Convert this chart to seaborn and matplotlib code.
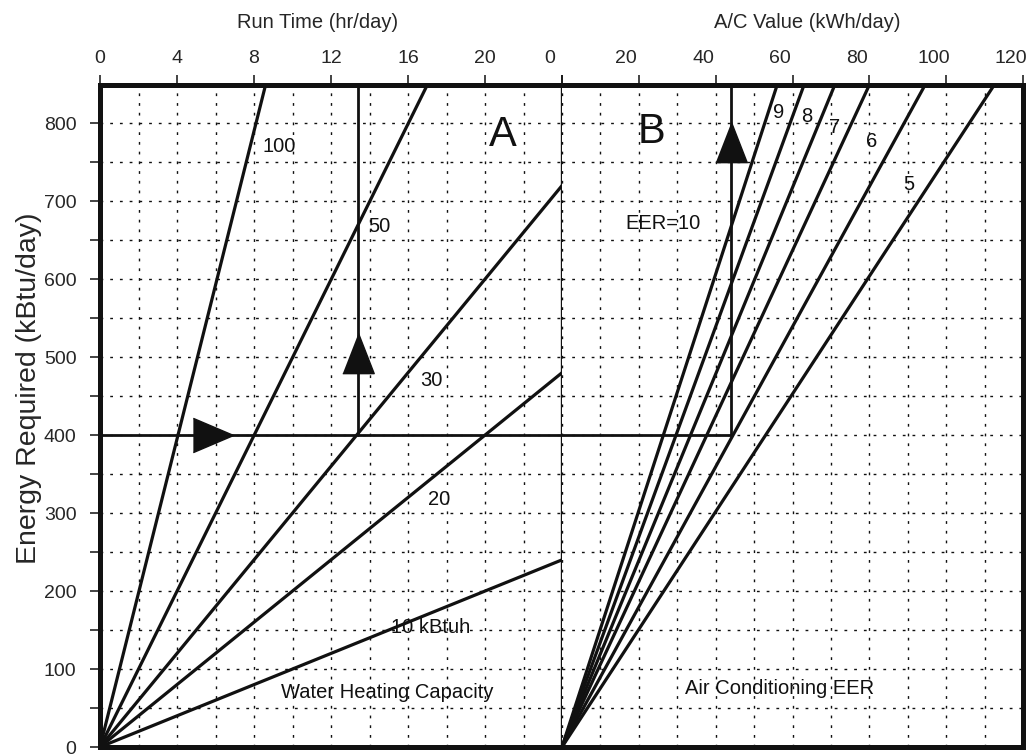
import numpy as np
import pandas as pd
import matplotlib
matplotlib.use("Agg")
import matplotlib.pyplot as plt
import matplotlib.transforms as mtransforms
from matplotlib.ticker import MultipleLocator
import seaborn as sns

# Panel A: water heating capacity lines (kBtuh), origin -> end point
heat_capacity = [10, 20, 30, 50, 100]
heat_end_hours = [24, 24, 24, 17.0, 8.6]
heat_end_energy = [240, 480, 720, 849, 849]

# Panel B: air conditioning EER lines, origin -> end point at top
eer_values = [10, 9, 8, 7, 6, 5]
eer_end_kwh = [56.0, 63.0, 71.0, 80.0, 94.5, 112.5]
eer_end_energy = [849, 849, 849, 849, 849, 849]

# worked example path (400 kBtu/day)
example_energy = 400
example_hours = 13.4
example_kwh = 44

run_ticks = [0, 4, 8, 12, 16, 20, 24]
run_ticklabels = ["0", "4", "8", "12", "16", "20", ""]
ac_ticks = [0, 20, 40, 60, 80, 100, 120]
energy_ticks = [0, 100, 200, 300, 400, 500, 600, 700, 800]

sns.set_style("white")
plt.rcParams["font.family"] = ["Liberation Sans", "DejaVu Sans"]

heat_rows = []
for cap, h, e in zip(heat_capacity, heat_end_hours, heat_end_energy):
    heat_rows += [(cap, 0, 0), (cap, h, e)]
heat_df = pd.DataFrame(heat_rows, columns=["capacity", "hours", "energy"])

eer_rows = []
for eer, k, e in zip(eer_values, eer_end_kwh, eer_end_energy):
    eer_rows += [(eer, 0, 0), (eer, k, e)]
eer_df = pd.DataFrame(eer_rows, columns=["eer", "kwh", "energy"])

W, H = 1033, 755
fig = plt.figure(figsize=(W / 100, H / 100), dpi=100)
axA = fig.add_axes([100 / W, 8 / H, 462 / W, 662 / H])
axB = fig.add_axes([562 / W, 8 / H, 461 / W, 662 / H], sharey=axA)

ink = "#111111"
lw_line = 2.3
grid_kw = dict(color=ink, linewidth=1.0, linestyle=(0, (2, 5)))

sns.lineplot(data=heat_df, x="hours", y="energy", units="capacity", estimator=None,
             color=ink, linewidth=lw_line, ax=axA, legend=False)
sns.lineplot(data=eer_df, x="kwh", y="energy", units="eer", estimator=None,
             color=ink, linewidth=lw_line, ax=axB, legend=False)

# example path with arrows
axA.plot([0, 24], [example_energy, example_energy], color=ink, lw=2.0)
axA.plot([example_hours, example_hours], [example_energy, 849], color=ink, lw=2.0)
axB.plot([0, example_kwh], [example_energy, example_energy], color=ink, lw=2.0)
axB.plot([example_kwh, example_kwh], [example_energy, 849], color=ink, lw=2.0)

right_tri = [(-1, -0.85), (1, 0), (-1, 0.85)]
up_tri = [(-0.78, -1), (0.78, -1), (0, 1)]
axA.plot([5.85], [example_energy], marker=right_tri, ms=29, color=ink, mec=ink)
axA.plot([example_hours], [505], marker=up_tri, ms=29, color=ink, mec=ink)
axB.plot([example_kwh], [776], marker=up_tri, ms=29, color=ink, mec=ink)

# limits, ticks, grid
axA.set_xlim(0, 24)
axB.set_xlim(0, 120)
axA.set_ylim(0, 849)

axA.set_xticks(run_ticks)
axA.set_xticklabels(run_ticklabels)
axB.set_xticks(ac_ticks)
axA.xaxis.set_minor_locator(MultipleLocator(2))
axB.xaxis.set_minor_locator(MultipleLocator(10))
axA.set_yticks(energy_ticks)
axA.yaxis.set_minor_locator(MultipleLocator(50))

for ax in (axA, axB):
    ax.set_xlabel("")
    ax.set_ylabel("")
    ax.xaxis.tick_top()
    ax.tick_params(axis="x", which="major", direction="out", length=7, width=1.1,
                   top=True, bottom=False, labeltop=True, labelbottom=False,
                   labelsize=14, pad=6, color=ink)
    ax.tick_params(axis="x", which="minor", length=0)
    ax.grid(True, which="both", **grid_kw)
    for side in ("top", "bottom", "left", "right"):
        ax.spines[side].set_color(ink)
        ax.spines[side].set_linewidth(3.6)

axA.tick_params(axis="y", which="both", direction="out", length=7, width=1.1,
                left=True, labelsize=14, pad=10, color=ink)
axB.tick_params(axis="y", which="both", left=False, right=False, labelleft=False)
axA.spines["right"].set_linewidth(2.4)
axB.spines["left"].set_visible(False)

# titles and labels
fig.text(318 / W, 1 - 22 / H, "Run Time (hr/day)", ha="center", va="center", fontsize=14.5)
fig.text(807 / W, 1 - 22 / H, "A/C Value (kWh/day)", ha="center", va="center", fontsize=14.5)
fig.text(29 / W, 1 - 388 / H, "Energy Required (kBtu/day)",
         rotation=90, ha="center", va="center", fontsize=20.5)

txt = dict(ha="center", va="center", fontsize=14.5, color=ink)
axA.text(9.3, 770, "100", **txt)
axA.text(14.5, 668, "50", **txt)
axA.text(17.2, 470, "30", **txt)
axA.text(17.6, 318, "20", **txt)
axA.text(17.2, 153, "10 kBtuh", **txt)
axA.text(14.9, 70, "Water Heating Capacity", **txt)
axA.text(20.9, 785, "A", ha="center", va="center", fontsize=30, color=ink)

axB.text(23.2, 789, "B", ha="center", va="center", fontsize=30, color=ink)
axB.text(26.4, 672, "EER=10", **txt)
for lbl, x, y in zip(["9", "8", "7", "6", "5"],
                     [56.4, 63.7, 71.0, 80.7, 90.3],
                     [814, 808, 795, 776, 722]):
    axB.text(x, y, lbl, **txt)
axB.text(56.7, 75, "Air Conditioning EER", **txt)

# the scanned chart prints the A/C tick numbers slightly left of their ticks
shift = mtransforms.ScaledTranslation(-9 / 72, 0, fig.dpi_scale_trans)
for lbl in axB.get_xticklabels():
    lbl.set_transform(lbl.get_transform() + shift)

fig.savefig("out.png", dpi=100)
